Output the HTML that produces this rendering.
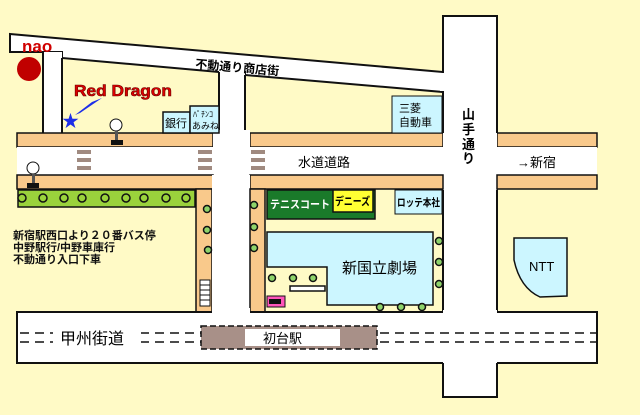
<!DOCTYPE html>
<html><head><meta charset="utf-8"><style>
html,body{margin:0;padding:0;background:#fffac6;}
svg{display:block;font-family:"Liberation Sans","Noto Sans CJK JP",sans-serif;}
</style></head><body>
<svg width="640" height="415" viewBox="0 0 640 415" xmlns="http://www.w3.org/2000/svg">
<rect width="640" height="415" fill="#fffac6"/>
<!-- Fudo slanted road -->
<polygon points="10,34 443,72 443,92 245,75 245,72 219,72 62,58 62,52 10,52" fill="#fff" stroke="#111" stroke-width="2"/>
<!-- Yamate road -->
<rect x="443" y="16" width="54" height="381" fill="#fff" stroke="#111" stroke-width="2"/>
<rect x="440" y="73" width="6" height="18" fill="#fff"/>
<!-- nao vertical road -->
<rect x="43" y="52" width="19" height="82" fill="#fff"/>
<line x1="43" y1="52" x2="43" y2="133" stroke="#111" stroke-width="2"/>
<line x1="62" y1="58" x2="62" y2="133" stroke="#111" stroke-width="2"/>
<!-- central vertical road -->
<rect x="219" y="70" width="26" height="70" fill="#fff"/>
<line x1="219" y1="72" x2="219" y2="133" stroke="#111" stroke-width="2"/>
<line x1="245" y1="75" x2="245" y2="133" stroke="#111" stroke-width="2"/>
<!-- horizontal mizudo road -->
<rect x="17" y="133" width="196" height="14" fill="#f9c98b" stroke="#111" stroke-width="1.5"/>
<rect x="250" y="133" width="193" height="14" fill="#f9c98b" stroke="#111" stroke-width="1.5"/>
<rect x="497" y="133" width="100" height="14" fill="#f9c98b" stroke="#111" stroke-width="1.5"/>
<rect x="17" y="147" width="580" height="28" fill="#fff"/>
<rect x="213" y="130" width="37" height="20" fill="#fff"/>
<rect x="443" y="130" width="54" height="60" fill="#fff"/>
<rect x="17" y="175" width="196" height="14" fill="#f9c98b" stroke="#111" stroke-width="1.5"/>
<rect x="250" y="175" width="193" height="14" fill="#f9c98b" stroke="#111" stroke-width="1.5"/>
<rect x="497" y="175" width="100" height="14" fill="#f9c98b" stroke="#111" stroke-width="1.5"/>
<line x1="443" y1="91" x2="443" y2="133" stroke="#111" stroke-width="2"/>
<line x1="497" y1="16" x2="497" y2="133" stroke="#111" stroke-width="2"/>
<!-- crosswalks -->
<g fill="#a08a80">
<rect x="77" y="150" width="14" height="4"/><rect x="77" y="158" width="14" height="4"/><rect x="77" y="166" width="14" height="4"/>
<rect x="198" y="150" width="14" height="4"/><rect x="198" y="158" width="14" height="4"/><rect x="198" y="166" width="14" height="4"/>
<rect x="251" y="150" width="14" height="4"/><rect x="251" y="158" width="14" height="4"/><rect x="251" y="166" width="14" height="4"/>
</g>
<!-- green strip -->
<rect x="18" y="190" width="177" height="17" fill="#9ad23c" stroke="#111" stroke-width="1.5"/>
<g fill="#9ad23c" stroke="#111" stroke-width="1.5">
<circle cx="22" cy="198" r="4"/><circle cx="43" cy="198" r="4"/><circle cx="64" cy="198" r="4"/><circle cx="82" cy="198" r="4"/><circle cx="105" cy="198" r="4"/><circle cx="126" cy="198" r="4"/><circle cx="144" cy="198" r="4"/><circle cx="166" cy="198" r="4"/><circle cx="186" cy="198" r="4"/>
</g>
<!-- central road lower part + sidewalks -->
<rect x="196" y="189" width="16" height="123" fill="#f9c98b" stroke="#111" stroke-width="1.5"/>
<rect x="212" y="175" width="38" height="140" fill="#fff"/>
<rect x="250" y="189" width="15" height="123" fill="#f9c98b" stroke="#111" stroke-width="1.5"/>
<g fill="#fff" stroke="#111" stroke-width="1"><rect x="200" y="280" width="10" height="26"/></g>
<g stroke="#111" stroke-width="1"><line x1="200" y1="285" x2="210" y2="285"/><line x1="200" y1="290" x2="210" y2="290"/><line x1="200" y1="295" x2="210" y2="295"/><line x1="200" y1="300" x2="210" y2="300"/></g>
<g fill="#8ed36a" stroke="#111" stroke-width="1.5">
<circle cx="207" cy="209" r="3.5"/><circle cx="207" cy="230" r="3.5"/><circle cx="208" cy="250" r="3.5"/>
<circle cx="254" cy="205" r="3.5"/><circle cx="254" cy="227" r="3.5"/><circle cx="254" cy="248" r="3.5"/>
</g>
<!-- block right: tennis etc -->
<rect x="267" y="190" width="108" height="29" fill="#1a7a2a" stroke="#111" stroke-width="1.5"/>
<text x="270" y="208" font-size="11" fill="#fff" font-weight="bold" textLength="60" lengthAdjust="spacingAndGlyphs">テニスコート</text>
<rect x="333" y="190" width="40" height="22" fill="#ffff33" stroke="#111" stroke-width="1.5"/>
<text x="335" y="205" font-size="11" fill="#000" font-weight="bold" textLength="35" lengthAdjust="spacingAndGlyphs">デニーズ</text>
<rect x="395" y="190" width="47" height="24" fill="#ccf6ff" stroke="#111" stroke-width="1"/>
<text x="397" y="206" font-size="10.5" fill="#000" font-weight="bold" textLength="43" lengthAdjust="spacingAndGlyphs">ロッテ本社</text>
<polygon points="267,232 433,232 433,305 327,305 327,267 267,267" fill="#ccf6ff" stroke="#111" stroke-width="1.5"/>
<line x1="443" y1="190" x2="443" y2="312" stroke="#111" stroke-width="2"/>
<line x1="497" y1="190" x2="497" y2="312" stroke="#111" stroke-width="2"/>
<text x="342" y="273" font-size="15" fill="#000">新国立劇場</text>
<g fill="#8ed36a" stroke="#111" stroke-width="1.5">
<circle cx="439" cy="241" r="3.5"/><circle cx="439" cy="262" r="3.5"/><circle cx="439" cy="284" r="3.5"/>
<circle cx="380" cy="307" r="3.5"/><circle cx="401" cy="307" r="3.5"/><circle cx="422" cy="307" r="3.5"/>
<circle cx="272" cy="278" r="3.5"/><circle cx="293" cy="278" r="3.5"/><circle cx="313" cy="278" r="3.5"/>
</g>
<rect x="290" y="286" width="35" height="5" fill="#fff" stroke="#111" stroke-width="1.5"/>
<rect x="267" y="296" width="18" height="11" fill="#ff55bb" stroke="#111" stroke-width="1"/>
<rect x="269" y="299" width="12" height="5" fill="#111"/>
<!-- Koshu road -->
<rect x="17" y="312" width="580" height="51" fill="#fff" stroke="#111" stroke-width="2"/>
<rect x="443" y="310" width="54" height="55" fill="#fff"/>
<line x1="443" y1="363" x2="443" y2="397" stroke="#111" stroke-width="2"/>
<line x1="497" y1="363" x2="497" y2="397" stroke="#111" stroke-width="2"/>
<rect x="212" y="308" width="38" height="6" fill="#fff"/>
<line x1="20" y1="333" x2="597" y2="333" stroke="#111" stroke-width="1.5" stroke-dasharray="9,6"/>
<line x1="20" y1="342" x2="597" y2="342" stroke="#111" stroke-width="1.5" stroke-dasharray="9,6"/>
<rect x="201" y="326" width="176" height="23" fill="#a89088" stroke="#111" stroke-width="1.5" stroke-dasharray="6,3"/>
<rect x="245" y="329" width="95" height="17" fill="#fff"/>
<text x="263" y="343" font-size="13" fill="#000">初台駅</text>
<rect x="53" y="327" width="88" height="22" fill="#fff"/>
<text x="60" y="344" font-size="16" fill="#000">甲州街道</text>
<!-- NTT -->
<path d="M514,238 L567,238 L567,296 L540,297 Q520,288 514,260 Z" fill="#ccf6ff" stroke="#111" stroke-width="1.5"/>
<text x="529" y="271" font-size="13" fill="#000">NTT</text>
<!-- buildings top -->
<rect x="392" y="96" width="50" height="37" fill="#ccf6ff" stroke="#111" stroke-width="1"/>
<text x="399" y="112" font-size="11" fill="#000">三菱</text>
<text x="399" y="126" font-size="11" fill="#000">自動車</text>
<rect x="163" y="112" width="27" height="21" fill="#ccf6ff" stroke="#111" stroke-width="1.5"/>
<text x="165" y="127" font-size="11" fill="#000">銀行</text>
<rect x="190" y="106" width="29" height="27" fill="#ccf6ff" stroke="#111" stroke-width="1.5"/>
<text x="193" y="117" font-size="8" fill="#000">ﾊﾟﾁﾝｺ</text>
<text x="192" y="129" font-size="9" fill="#000">あみね</text>
<!-- lamps -->
<circle cx="116" cy="125" r="6" fill="#fff" stroke="#111" stroke-width="1"/>
<rect x="115" y="131" width="3" height="9" fill="#555"/><rect x="111" y="140" width="12" height="5" fill="#111"/>
<circle cx="33" cy="168" r="6" fill="#fff" stroke="#111" stroke-width="1"/>
<rect x="32" y="174" width="3" height="9" fill="#555"/><rect x="27" y="183" width="12" height="5" fill="#111"/>
<!-- labels -->
<circle cx="29" cy="69" r="12" fill="#c00000"/>
<text x="22" y="52" font-size="17" font-weight="bold" fill="#d00000">nao</text>
<text x="74" y="96" font-size="16" font-weight="bold" fill="#e00000" stroke="#600" stroke-width="0.6" textLength="98" lengthAdjust="spacingAndGlyphs">Red Dragon</text>
<polygon points="75,115 92,102 102,98 80,113" fill="#1d2ee8"/>
<text x="62" y="127" font-size="17" fill="#1d2ee8">★</text>
<text x="195" y="68" font-size="12" font-weight="bold" fill="#000" transform="rotate(5 195 68)">不動通り商店街</text>
<text x="298" y="167" font-size="13" fill="#000">水道道路</text>
<text x="517" y="167" font-size="13" fill="#000">→新宿</text>
<g font-size="13" font-weight="bold" fill="#000">
<text x="462" y="119">山</text><text x="462" y="134">手</text><text x="462" y="149">通</text><text x="462" y="163">り</text>
</g>
<g font-size="11" font-weight="bold" fill="#111">
<text x="13" y="239">新宿駅西口より２０番バス停</text>
<text x="13" y="251">中野駅行/中野車庫行</text>
<text x="13" y="263">不動通り入口下車</text>
</g>
</svg>
</body></html>
